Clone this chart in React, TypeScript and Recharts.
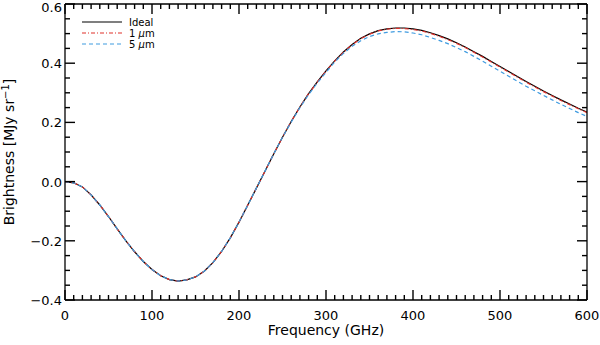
import { LineChart, Line, XAxis, YAxis, Legend, Label } from 'recharts';

const freq = [
  0, 10, 20, 30, 40, 50, 60, 70, 80, 90,
  100, 110, 120, 130, 140, 150, 160, 170, 180, 190,
  200, 210, 220, 230, 240, 250, 260, 270, 280, 290,
  300, 310, 320, 330, 340, 350, 360, 370, 380, 390,
  400, 410, 420, 430, 440, 450, 460, 470, 480, 490,
  500, 510, 520, 530, 540, 550, 560, 570, 580, 590, 600,
];

const ideal = [
  0.0, -0.004, -0.018, -0.045, -0.079, -0.118, -0.16, -0.2, -0.237, -0.27,
  -0.297, -0.318, -0.331, -0.336, -0.332, -0.322, -0.303, -0.274, -0.236, -0.19,
  -0.137, -0.08, -0.022, 0.036, 0.094, 0.15, 0.203, 0.252, 0.297, 0.337,
  0.374, 0.408, 0.438, 0.463, 0.484, 0.499, 0.51, 0.516, 0.519, 0.519,
  0.516, 0.511, 0.503, 0.493, 0.482, 0.469, 0.455, 0.439, 0.423, 0.406,
  0.389, 0.372, 0.355, 0.338, 0.322, 0.306, 0.291, 0.276, 0.262, 0.248, 0.235,
];

const oneMicron = [
  0.0, -0.004, -0.018, -0.045, -0.079, -0.118, -0.16, -0.2, -0.237, -0.27,
  -0.297, -0.318, -0.331, -0.336, -0.332, -0.322, -0.303, -0.274, -0.236, -0.19,
  -0.137, -0.08, -0.022, 0.036, 0.094, 0.15, 0.203, 0.252, 0.297, 0.336,
  0.373, 0.407, 0.437, 0.462, 0.483, 0.498, 0.509, 0.515, 0.518, 0.517,
  0.514, 0.509, 0.501, 0.491, 0.48, 0.467, 0.453, 0.437, 0.421, 0.404,
  0.387, 0.37, 0.353, 0.336, 0.32, 0.304, 0.289, 0.274, 0.26, 0.246, 0.233,
];

const fiveMicron = [
  0.0, -0.004, -0.018, -0.045, -0.079, -0.118, -0.16, -0.2, -0.237, -0.27,
  -0.297, -0.318, -0.331, -0.336, -0.332, -0.322, -0.303, -0.274, -0.236, -0.19,
  -0.137, -0.08, -0.022, 0.036, 0.094, 0.15, 0.201, 0.25, 0.294, 0.333,
  0.369, 0.404, 0.433, 0.457, 0.476, 0.49, 0.499, 0.504, 0.507, 0.506,
  0.502, 0.496, 0.487, 0.477, 0.466, 0.453, 0.439, 0.423, 0.407, 0.39,
  0.373, 0.356, 0.339, 0.322, 0.307, 0.291, 0.276, 0.261, 0.247, 0.233, 0.22,
];

const xTicks = freq;
const xMajor = [0, 100, 200, 300, 400, 500, 600];
const yTicks = [
  -0.4, -0.35, -0.3, -0.25, -0.2, -0.15, -0.1, -0.05, 0, 0.05, 0.1,
  0.15, 0.2, 0.25, 0.3, 0.35, 0.4, 0.45, 0.5, 0.55, 0.6,
];
const yMajor = [-0.4, -0.2, 0, 0.2, 0.4, 0.6];
const yLabels = ['\u22120.4', '\u22120.2', '0.0', '0.2', '0.4', '0.6'];

const data = freq.map((f, i) => ({
  f,
  ideal: ideal[i],
  one: oneMicron[i],
  five: fiveMicron[i],
}));

const FONT = '"DejaVu Sans", Verdana, sans-serif';
const AX = '#000';
const TW = 1.4;

const majorY = (v: number) => yMajor.findIndex((m) => Math.abs(m - v) < 1e-6);

// IDL-style ticks: pointing into the plot, long on majors
function BottomTick({ x, y, payload }: any) {
  const major = xMajor.includes(payload.value);
  return (
    <g>
      <path d={`M${x},${y}V${y - (major ? 10 : 5)}`} stroke={AX} strokeWidth={TW} fill="none" />
      {major && (
        <text x={x} y={y + 20} textAnchor="middle" fontSize={13} fontFamily={FONT} fill="#000">
          {payload.value}
        </text>
      )}
    </g>
  );
}

function TopTick({ x, y, payload }: any) {
  const major = xMajor.includes(payload.value);
  return <path d={`M${x},${y}V${y + (major ? 10 : 5)}`} stroke={AX} strokeWidth={TW} fill="none" />;
}

function LeftTick({ x, y, payload }: any) {
  const idx = majorY(payload.value);
  return (
    <g>
      <path d={`M${x},${y}H${x + (idx >= 0 ? 10 : 5)}`} stroke={AX} strokeWidth={TW} fill="none" />
      {idx >= 0 && (
        <text x={x - 3} y={Math.max(y + 5, 12)} textAnchor="end" fontSize={13} fontFamily={FONT} fill="#000">
          {yLabels[idx]}
        </text>
      )}
    </g>
  );
}

function RightTick({ x, y, payload }: any) {
  const idx = majorY(payload.value);
  return <path d={`M${x},${y}H${x - (idx >= 0 ? 10 : 5)}`} stroke={AX} strokeWidth={TW} fill="none" />;
}

function YTitle({ viewBox }: any) {
  const cy = viewBox.y + viewBox.height / 2;
  return (
    <text
      x={14}
      y={cy}
      transform={`rotate(-90, 14, ${cy})`}
      textAnchor="middle"
      fontSize={14}
      fontFamily={FONT}
      fill="#000"
    >
      Brightness [MJy sr
      <tspan dy={-5} fontSize={10}>{'\u22121'}</tspan>
      <tspan dy={5}>]</tspan>
    </text>
  );
}

const legendItems = [
  { label: 'Ideal', mu: false, color: '#000000', dash: undefined },
  { label: '1 ', mu: true, color: '#e0302a', dash: '4 2 1 2' },
  { label: '5 ', mu: true, color: '#3f9be0', dash: '4 3' },
];

function LegendBox() {
  return (
    <svg width={200} height={50}>
      {legendItems.map((it, i) => {
        const y = 22 + i * 11;
        return (
          <g key={it.label + i}>
            <line x1={82} y1={y} x2={122} y2={y} stroke={it.color} strokeWidth={1.2} strokeDasharray={it.dash} />
            <text x={129} y={y + 3.5} fontSize={10} fontFamily={FONT} fill="#000">
              {it.label}
              {it.mu && <tspan fontStyle="italic">{'\u03bc'}</tspan>}
              {it.mu && 'm'}
            </text>
          </g>
        );
      })}
    </svg>
  );
}

const frameLine = { stroke: AX, strokeWidth: 1.3 };

export default function App() {
  return (
    <div style={{ position: 'absolute', left: 0, top: 0, background: '#fff' }}>
      <LineChart width={600} height={345} data={data} margin={{ top: 3, right: 12, bottom: 0, left: 0 }}>
        <XAxis
          dataKey="f"
          type="number"
          domain={[0, 600]}
          ticks={xTicks}
          interval={0}
          tick={<BottomTick />}
          tickLine={false}
          tickSize={0}
          tickMargin={0}
          axisLine={frameLine}
          height={45}
          allowDataOverflow
        >
          <Label value="Frequency (GHz)" position="insideBottom" offset={10} fontSize={14} fontFamily={FONT} fill="#000" />
        </XAxis>
        <XAxis
          xAxisId="top"
          orientation="top"
          dataKey="f"
          type="number"
          domain={[0, 600]}
          ticks={xTicks}
          interval={0}
          tick={<TopTick />}
          tickLine={false}
          tickSize={0}
          tickMargin={0}
          axisLine={frameLine}
          height={1}
          allowDataOverflow
        />
        <YAxis
          type="number"
          domain={[-0.4, 0.6]}
          ticks={yTicks}
          interval={0}
          tick={<LeftTick />}
          tickLine={false}
          tickSize={0}
          tickMargin={0}
          axisLine={frameLine}
          width={65}
          allowDataOverflow
        >
          <Label content={<YTitle />} />
        </YAxis>
        <YAxis
          yAxisId="right"
          orientation="right"
          type="number"
          domain={[-0.4, 0.6]}
          ticks={yTicks}
          interval={0}
          tick={<RightTick />}
          tickLine={false}
          tickSize={0}
          tickMargin={0}
          axisLine={frameLine}
          width={1}
          allowDataOverflow
        />
        <Legend
          layout="horizontal"
          verticalAlign="middle"
          content={() => <LegendBox />}
          wrapperStyle={{ position: 'absolute', left: 0, top: 0, width: 200, height: 50 }}
        />
        {/* hidden series so the top/right frame axes get drawn */}
        <Line
          xAxisId="top"
          yAxisId="right"
          dataKey="ideal"
          stroke="none"
          dot={false}
          activeDot={false}
          legendType="none"
          isAnimationActive={false}
        />
        <Line dataKey="ideal" stroke="#000000" strokeWidth={1.2} dot={false} isAnimationActive={false} />
        <Line dataKey="one" stroke="#e0302a" strokeWidth={1.2} strokeDasharray="4 2 1 2" dot={false} isAnimationActive={false} />
        <Line dataKey="five" stroke="#3f9be0" strokeWidth={1.2} strokeDasharray="4 3" dot={false} isAnimationActive={false} />
      </LineChart>
    </div>
  );
}
